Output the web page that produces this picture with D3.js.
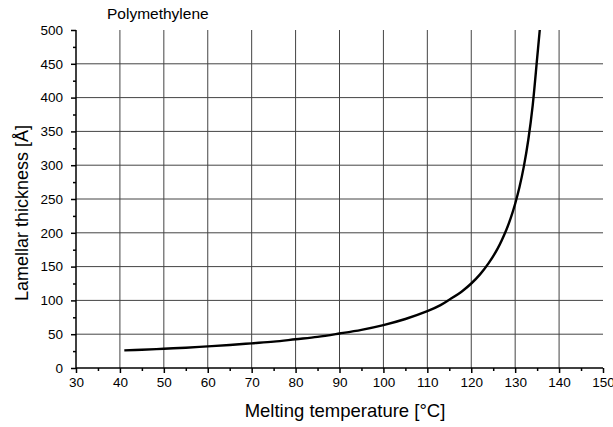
<!DOCTYPE html>
<html><head><meta charset="utf-8">
<script src="https://cdn.jsdelivr.net/npm/d3@7"></script>
<style>body{margin:0;background:#fff}svg{display:block;font-family:"Liberation Sans",Arial,sans-serif}</style>
</head><body><svg id="c" width="613" height="427"></svg>
<script>
const temperature = [41,45,50,55,60,65,70,75,80,85,90,95,100,105,110,113,115,118,120,122,124,126,128,129,130,131,132,133,134,135,135.6];
const thickness   = [26,27,28.5,30,32,34,36.5,39,42.5,46,51,56.5,63.5,72.5,84,93,101,114,125,138.5,155.5,176.5,204.5,222,243,268,299,338,389,458,500];
const xTicks = [30,40,50,60,70,80,90,100,110,120,130,140,150];
const yTicks = [0,50,100,150,200,250,300,350,400,450,500];
const title = "Polymethylene";
const xLabel = "Melting temperature [°C]";
const yLabel = "Lamellar thickness [Å]";

const svg = d3.select("#c");
const L=76,R=603,T=30,B=368;
const x = d3.scaleLinear().domain([30,150]).range([L,R]);
const y = d3.scaleLinear().domain([0,500]).range([B,T]);

// grid
svg.append("g").selectAll("line").data(xTicks.filter(d=>d>30&&d<150)).join("line")
  .attr("x1",d=>x(d)).attr("x2",d=>x(d)).attr("y1",T).attr("y2",B)
  .attr("stroke","#444").attr("stroke-width",1);
svg.append("g").selectAll("line").data(yTicks.filter(d=>d>0&&d<500)).join("line")
  .attr("x1",L).attr("x2",R).attr("y1",d=>y(d)).attr("y2",d=>y(d))
  .attr("stroke","#444").attr("stroke-width",1);

// axes
const xAxis = d3.axisBottom(x).tickValues(xTicks).tickSize(5).tickPadding(4).tickFormat(d3.format("d"));
const xMinor = d3.axisBottom(x).tickValues(d3.range(35,150,10)).tickSize(3).tickFormat("");
const yAxis = d3.axisLeft(y).tickValues(yTicks).tickSize(5).tickPadding(8).tickFormat(d3.format("d"));
const yMinor = d3.axisLeft(y).tickValues(d3.range(25,500,50)).tickSize(3).tickFormat("");

function style(g){
  g.select(".domain").attr("stroke","#000").attr("stroke-width",1.5);
  g.selectAll(".tick line").attr("stroke","#000").attr("stroke-width",1.5);
  g.selectAll("text").attr("fill","#000").attr("font-size",13.5);
}
const gx = svg.append("g").attr("transform",`translate(0,${B})`).call(xAxis).call(style);
gx.select(".domain").attr("d",`M${L},0H${R}`);
svg.append("g").attr("transform",`translate(0,${B})`).call(xMinor).call(g=>{g.select(".domain").remove();g.selectAll("line").attr("stroke","#000").attr("stroke-width",1.5);});
const gy = svg.append("g").attr("transform",`translate(${L},0)`).call(yAxis).call(style);
gy.select(".domain").attr("d",`M0,${B}V${T}`);
svg.append("g").attr("transform",`translate(${L},0)`).call(yMinor).call(g=>{g.select(".domain").remove();g.selectAll("line").attr("stroke","#000").attr("stroke-width",1.5);});

// curve
const pts = temperature.map((t,i)=>[t,thickness[i]]);
svg.append("path").datum(pts)
  .attr("d",d3.line().x(d=>x(d[0])).y(d=>y(d[1])).curve(d3.curveCatmullRom.alpha(0.5)))
  .attr("fill","none").attr("stroke","#000").attr("stroke-width",2.4);

// labels
svg.append("text").attr("x",107).attr("y",19).attr("font-size",15.5).text(title);
svg.append("text").attr("x",345).attr("y",417).attr("text-anchor","middle").attr("font-size",18.5).text(xLabel);
svg.append("text").attr("transform","translate(28,213) rotate(-90)").attr("text-anchor","middle").attr("font-size",18).text(yLabel);
</script></body></html>
